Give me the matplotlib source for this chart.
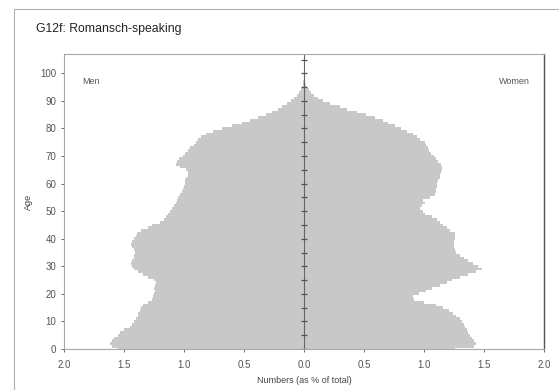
import numpy as np
import matplotlib
matplotlib.use("Agg")
import matplotlib.pyplot as plt
from matplotlib.patches import Rectangle

plt.rcParams["font.family"] = ["Liberation Sans", "DejaVu Sans"]

# % of total population per single year of age, 0..100
ages = list(range(101))
men = [1.55, 1.60, 1.62, 1.60, 1.58, 1.55, 1.53, 1.50, 1.45, 1.43,
       1.42, 1.40, 1.38, 1.38, 1.37, 1.36, 1.34, 1.30, 1.27, 1.26,
       1.25, 1.24, 1.25, 1.24, 1.23, 1.25, 1.30, 1.34, 1.38, 1.42,
       1.43, 1.44, 1.43, 1.42, 1.42, 1.41, 1.42, 1.43, 1.44, 1.43,
       1.42, 1.40, 1.39, 1.36, 1.30, 1.27, 1.20, 1.17, 1.15, 1.13,
       1.12, 1.10, 1.08, 1.07, 1.06, 1.05, 1.03, 1.02, 1.01, 1.00,
       0.99, 0.99, 0.98, 0.97, 0.97, 0.98, 1.03, 1.07, 1.06, 1.04,
       1.01, 0.99, 0.97, 0.95, 0.92, 0.90, 0.88, 0.86, 0.82, 0.76,
       0.68, 0.60, 0.52, 0.45, 0.38, 0.32, 0.27, 0.22, 0.18, 0.14,
       0.11, 0.08, 0.06, 0.04, 0.025, 0.015, 0.01, 0.006, 0.004, 0.002,
       0.001]
women = [1.26, 1.42, 1.43, 1.42, 1.40, 1.38, 1.37, 1.36, 1.34, 1.33,
         1.32, 1.30, 1.27, 1.24, 1.21, 1.16, 1.10, 1.00, 0.92, 0.91,
         0.96, 1.02, 1.07, 1.13, 1.19, 1.23, 1.30, 1.37, 1.43, 1.48,
         1.45, 1.41, 1.37, 1.33, 1.30, 1.27, 1.26, 1.25, 1.25, 1.25,
         1.26, 1.26, 1.26, 1.22, 1.19, 1.16, 1.13, 1.11, 1.07, 1.01,
         0.99, 0.97, 0.98, 1.01, 0.99, 1.05, 1.09, 1.10, 1.10, 1.11,
         1.11, 1.12, 1.13, 1.13, 1.14, 1.15, 1.15, 1.14, 1.12, 1.10,
         1.08, 1.06, 1.04, 1.03, 1.02, 1.01, 0.97, 0.94, 0.91, 0.86,
         0.81, 0.76, 0.70, 0.66, 0.59, 0.52, 0.44, 0.36, 0.30, 0.22,
         0.16, 0.12, 0.08, 0.06, 0.04, 0.025, 0.015, 0.01, 0.006, 0.004,
         0.002]

xticks = [-2.0, -1.5, -1.0, -0.5, 0.0, 0.5, 1.0, 1.5, 2.0]
yticks = list(range(0, 101, 10))

fig = plt.figure(figsize=(5.59, 3.90), dpi=100)
fig.patches.append(Rectangle((14 / 559, -0.1), 1.2, 1 - 9 / 390 + 0.1,
                             transform=fig.transFigure, fill=False,
                             edgecolor="#b0b0b0", linewidth=0.8))
ax = fig.add_axes([64 / 559, 1 - 349 / 390, 480 / 559, 295 / 390])

bar_color = "#c8c8c8"
ax.barh(ages, [-v for v in men], height=1.0, color=bar_color, linewidth=0)
ax.barh(ages, women, height=1.0, color=bar_color, linewidth=0)

# centre axis with 5-year tick marks
ax.axvline(0, color="#666666", linewidth=0.8)
ax.plot(np.zeros(len(range(0, 106, 5))), list(range(0, 106, 5)),
        linestyle="none", marker="_", markersize=4, color="#555555",
        markeredgewidth=0.9)

ax.set_xlim(-2.0, 2.0)
ax.set_ylim(0, 107)
ax.set_xticks(xticks)
ax.set_xticklabels(["%.1f" % abs(v) for v in xticks])
ax.set_yticks(yticks)
ax.tick_params(axis="both", labelsize=7, colors="#555555", length=2,
               width=0.6, direction="out")
ax.tick_params(axis="x", pad=6)

for side in ["left", "bottom", "top"]:
    ax.spines[side].set_color("#a8a8a8")
    ax.spines[side].set_linewidth(0.8)
ax.spines["right"].set_color("#555555")
ax.spines["right"].set_linewidth(1.0)

ax.set_xlabel("Numbers (as % of total)", fontsize=6.5, color="#444444", labelpad=4)
ax.set_ylabel("Age", fontsize=6.5, color="#444444", labelpad=5)

ax.text(-1.85, 97, "Men", fontsize=6.5, color="#555555", va="center")
ax.text(1.88, 97, "Women", fontsize=6.5, color="#555555", va="center", ha="right")

fig.text(36 / 559, 1 - 29 / 390, "G12f: Romansch-speaking", fontsize=8.8,
         color="#222222", va="center")

fig.savefig("out.png", dpi=100)
